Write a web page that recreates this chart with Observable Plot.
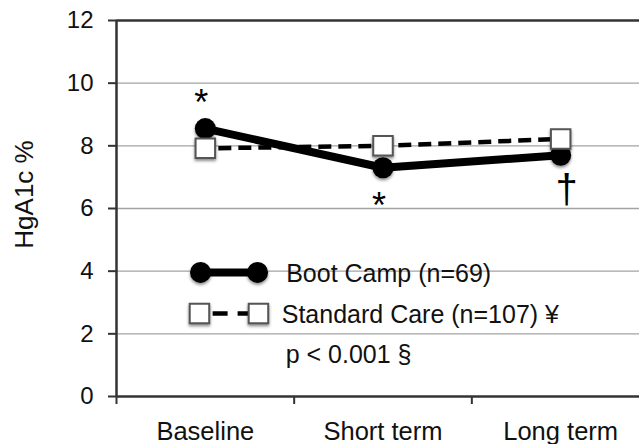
<!DOCTYPE html>
<html>
<head>
<meta charset="utf-8">
<script src="https://cdn.jsdelivr.net/npm/d3@7"></script>
<script src="https://cdn.jsdelivr.net/npm/@observablehq/plot@0.6"></script>
<style>
  html, body { margin: 0; padding: 0; background: white; }
  #chart { width: 639px; height: 444px; overflow: hidden; }
</style>
</head>
<body>
<div id="chart"></div>
<script>
// ---- data ----
const categories = ["Baseline", "Short term", "Long term"];
const bootCamp = [8.55, 7.3, 7.7];
const standardCare = [7.92, 8.0, 8.22];
const seriesNames = ["Boot Camp (n=69)", "Standard Care (n=107) ¥"];
const pNote = "p < 0.001 §";
const bootAnnotations = ["*", "*", "†"];
const yTicks = [0, 2, 4, 6, 8, 10, 12];
const yLabel = "HgA1c %";

// ---- derived tables ----
const boot = categories.map((c, i) => ({x: i + 0.5, y: bootCamp[i], note: bootAnnotations[i]}));
const std = categories.map((c, i) => ({x: i + 0.5, y: standardCare[i]}));

// annotation styling (pixel offsets relative to the Boot Camp point)
const noteStyle = [
  {dx: -4, dy: -25, fontSize: 36, fontWeight: "normal"},
  {dx: -4, dy: 39, fontSize: 36, fontWeight: "normal"},
  {dx: 6, dy: 35, fontSize: 40, fontWeight: "normal"}
];

// legend layout in data units
const L = {x1: 0.473, x2: 0.794, sx1: 0.467, sx2: 0.799, dash1: 0.541, tBoot: 0.955, tStd: 0.93, tP: 0.952,
           yBoot: 3.96, yBootT: 3.91, yStd: 2.65, yStdT: 2.59, yP: 1.31};

const font = "'Liberation Sans', Arial, Helvetica, sans-serif";

const chart = Plot.plot({
  width: 639,
  height: 444,
  marginLeft: 116,
  marginRight: 0,
  marginTop: 20,
  marginBottom: 48,
  x: {domain: [0, 3], range: [116, 649]},
  y: {domain: [0, 12]},
  style: {fontFamily: font, background: "white", color: "#111", overflow: "hidden"},
  marks: [
    Plot.gridY(yTicks.filter(t => t > 0 && t < 12), {stroke: "#a3a3a3", strokeOpacity: 1, strokeWidth: 1.3}),
    Plot.ruleY([12], {stroke: "#333", strokeWidth: 2.5}),
    Plot.ruleY([0], {stroke: "#333", strokeWidth: 2.5}),
    Plot.ruleX([0], {stroke: "#333", strokeWidth: 2.5}),
    Plot.axisY({ticks: yTicks, tickSize: 8, tickPadding: 15, fontSize: 24, label: null, stroke: "#333", strokeWidth: 2}),
    Plot.axisX({ticks: [0, 1, 2], tickSize: 8, tickFormat: () => "", label: null, stroke: "#333", strokeWidth: 2}),
    Plot.axisX({ticks: boot.map(d => d.x), tickSize: 0, tickPadding: 25, tickFormat: v => categories[Math.floor(v)], fontSize: 25.5, label: null}),
    Plot.text([yLabel], {text: d => d, frameAnchor: "left", rotate: -90, dx: -92, dy: -14, fontSize: 26, textAnchor: "middle", lineAnchor: "middle"}),

    // Boot Camp series
    Plot.line(boot, {x: "x", y: "y", stroke: "black", strokeWidth: 8}),
    Plot.dot(boot, {x: "x", y: "y", r: 10.5, fill: "black"}),
    // Standard Care series
    Plot.line(std, {x: "x", y: "y", stroke: "black", strokeWidth: 4.5, strokeDasharray: "13,7", strokeDashoffset: 7, strokeLinecap: "butt"}),
    Plot.dot(std, {x: "x", y: "y", symbol: "square", r: 11, fill: "white", stroke: "#555", strokeWidth: 2}),

    // annotations
    ...boot.map((d, i) => Plot.text([d], {x: "x", y: "y", text: "note", dx: noteStyle[i].dx, dy: noteStyle[i].dy, fontSize: noteStyle[i].fontSize, fontWeight: noteStyle[i].fontWeight, fill: "black"})),

    // legend
    Plot.line([{x: L.x1, y: L.yBoot}, {x: L.x2, y: L.yBoot}], {x: "x", y: "y", stroke: "black", strokeWidth: 8}),
    Plot.dot([{x: L.x1, y: L.yBoot}, {x: L.x2, y: L.yBoot}], {x: "x", y: "y", r: 10.5, fill: "black"}),
    Plot.line([{x: L.dash1, y: L.yStd}, {x: L.sx2, y: L.yStd}], {x: "x", y: "y", stroke: "black", strokeWidth: 4.5, strokeDasharray: "15,10", strokeLinecap: "butt"}),
    Plot.dot([{x: L.sx1, y: L.yStd}, {x: L.sx2, y: L.yStd}], {x: "x", y: "y", symbol: "square", r: 11, fill: "white", stroke: "#555", strokeWidth: 2}),
    Plot.text([seriesNames[0]], {text: d => d, x: L.tBoot, y: L.yBootT, textAnchor: "start", lineAnchor: "middle", fontSize: 25, fill: "#111"}),
    Plot.text([seriesNames[1]], {text: d => d, x: L.tStd, y: L.yStdT, textAnchor: "start", lineAnchor: "middle", fontSize: 25, fill: "#111"}),
    Plot.text([pNote], {text: d => d, x: L.tP, y: L.yP, textAnchor: "start", lineAnchor: "middle", fontSize: 25, fill: "#111"})
  ]
});

chart.querySelectorAll('g[aria-label="dot"]').forEach(g => {
  g.style.filter = "drop-shadow(0px 2px 1.5px rgba(0,0,0,0.45))";
});
document.getElementById("chart").appendChild(chart);
</script>
</body>
</html>
